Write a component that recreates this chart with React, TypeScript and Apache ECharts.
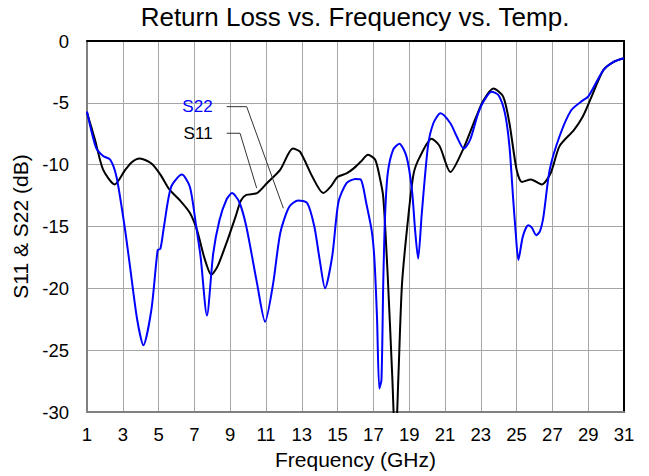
import React, { useEffect, useRef } from "react";
import * as echarts from "echarts";

const titleText = "Return Loss vs. Frequency vs. Temp.";
const xAxisName = "Frequency (GHz)";
const yAxisName = "S11 & S22 (dB)";

// S11 (black) [GHz, dB]
const s11: number[][] = [
  [1, -5.8], [1.45, -8.0], [1.9, -10.4], [2.55, -11.6], [3.1, -10.5], [3.5, -9.8], [3.95, -9.5],
  [4.6, -9.9], [5.1, -10.8], [5.6, -12.0], [6.2, -12.9], [6.75, -13.9], [7.15, -15.3], [7.55, -17.5],
  [7.95, -18.9], [8.3, -18.2], [8.8, -16.3], [9.3, -14.2], [9.6, -12.9], [9.9, -12.45], [10.5, -12.3],
  [11.05, -11.5], [11.8, -10.4], [12.5, -8.7], [12.9, -8.95], [13.6, -11.0], [14.2, -12.3], [14.6, -11.8],
  [15.0, -11.0], [15.5, -10.7], [15.9, -10.3], [16.3, -9.75], [16.7, -9.2], [17.1, -9.6], [17.35, -11.0],
  [17.55, -12.6], [17.8, -19], [18.05, -27], [18.23, -33], [18.4, -27], [18.6, -19.6], [18.95, -14.2],
  [19.25, -10.7], [19.6, -9.35], [20.25, -7.9], [20.7, -8.5], [21.3, -10.6], [22.0, -8.8], [22.75, -6.1],
  [23.15, -4.8], [23.7, -3.85], [24.25, -4.5], [24.6, -6.65], [25.0, -10.4], [25.3, -11.4], [25.8, -11.2],
  [26.4, -11.6], [26.9, -10.7], [27.4, -8.5], [28.2, -7.2], [28.7, -6.1], [29.1, -4.8], [29.85, -2.35],
  [30.4, -1.7], [31, -1.4],
];

// S22 (blue) [GHz, dB]
const s22: number[][] = [
  [1, -5.7], [1.5, -8.6], [1.9, -9.3], [2.3, -9.6], [2.65, -11.0], [3.1, -15.0], [3.4, -18.2],
  [3.8, -22.5], [4.15, -24.6], [4.6, -21.7], [4.95, -16.9], [5.1, -16.8], [5.3, -15.0], [5.7, -11.8],
  [6.3, -10.8], [6.75, -11.8], [7.1, -15.0], [7.35, -17.5], [7.7, -22.2], [8.05, -17.2], [8.4, -14.5],
  [8.8, -12.8], [9.1, -12.3], [9.5, -13.0], [9.9, -15.0], [10.5, -19.6], [10.95, -22.7], [11.4, -19.6],
  [11.8, -15.5], [12.3, -13.4], [12.8, -12.9], [13.3, -13.1], [13.7, -15.0], [14.0, -17.7], [14.3, -20.0],
  [14.7, -17.4], [15.05, -13.0], [15.5, -11.5], [16.0, -11.15], [16.3, -11.2], [16.6, -13.1], [16.9, -15.3],
  [17.05, -17.5], [17.2, -22.3], [17.33, -28.1], [17.45, -27.4], [17.55, -19.6], [17.65, -14.2],
  [17.8, -10.7], [18.1, -8.8], [18.45, -8.3], [18.85, -9.35], [19.15, -12.0], [19.33, -15.3], [19.5, -17.6],
  [19.7, -14.0], [20.05, -8.5], [20.35, -6.65], [20.75, -5.85], [21.3, -6.65], [21.65, -7.7], [22.05, -8.7],
  [22.4, -8.0], [22.85, -5.85], [23.15, -4.9], [23.6, -4.1], [24.0, -4.4], [24.35, -5.85], [24.6, -8.5],
  [24.8, -12.6], [24.95, -15.5], [25.1, -17.7], [25.35, -15.8], [25.65, -14.9], [25.85, -15.1], [26.1, -15.7],
  [26.3, -15.4], [26.5, -14.2], [26.85, -10.4], [27.4, -7.7], [28.05, -5.6], [28.7, -4.8], [29.0, -4.5],
  [29.85, -2.35], [30.4, -1.7], [31, -1.4],
];

// Callout leader lines [GHz, dB]
const s22Leader: number[][] = [[8.8, -5.31], [9.92, -5.31], [11.97, -13.52]];
const s11Leader: number[][] = [[8.8, -7.46], [9.55, -7.46], [10.48, -11.9]];

const FONT = "'Liberation Sans', Arial, sans-serif";

export default function App() {
  const ref = useRef<HTMLDivElement>(null);
  useEffect(() => {
    if (!ref.current) return;
    const chart = echarts.init(ref.current, undefined, { renderer: "svg" });
    const leaderLine = (data: number[][], name: string) => ({
      type: "line",
      name: name + " leader",
      data,
      showSymbol: false,
      symbol: "none",
      lineStyle: { color: "#333", width: 1 },
      z: 5,
      silent: true,
    });
    const leaderLabel = (data: number[][], name: string, color: string) => ({
      type: "scatter",
      name: name + " label",
      data: [data[0]],
      symbolSize: 0.01,
      itemStyle: { color, opacity: 0 },
      label: {
        show: true,
        position: "left",
        distance: 14,
        formatter: name,
        color,
        opacity: 1,
        textBorderWidth: 0,
        fontSize: 17,
        fontFamily: FONT,
      },
      z: 6,
      silent: true,
    });
    chart.setOption({
      animation: false,
      backgroundColor: "#fff",
      textStyle: { fontFamily: FONT },
      title: {
        text: titleText,
        left: 355,
        textAlign: "center",
        top: 4,
        padding: 0,
        textStyle: { fontSize: 26, fontWeight: "normal", color: "#000", fontFamily: FONT },
      },
      grid: { left: 87, top: 41, right: 25, bottom: 64, containLabel: false },
      xAxis: [
        {
          type: "value",
          min: 1,
          max: 31,
          interval: 2,
          name: xAxisName,
          nameLocation: "middle",
          nameGap: 37,
          nameTextStyle: { fontSize: 21, color: "#000", fontFamily: FONT },
          axisLine: { show: true, onZero: false, lineStyle: { color: "#808080", width: 2 } },
          axisTick: { show: false },
          axisLabel: { fontSize: 18.5, color: "#000", margin: 13, fontFamily: FONT },
          splitLine: { show: true, lineStyle: { color: "#a6a6a6", width: 1 } },
        },
        {
          type: "value",
          position: "top",
          min: 1,
          max: 31,
          axisLine: { show: true, onZero: false, lineStyle: { color: "#000", width: 2 } },
          axisTick: { show: false },
          axisLabel: { show: false },
          splitLine: { show: false },
        },
      ],
      yAxis: [
        {
          type: "value",
          min: -30,
          max: 0,
          interval: 5,
          name: yAxisName,
          nameLocation: "middle",
          nameGap: 53,
          nameRotate: 90,
          nameTextStyle: { fontSize: 21, color: "#000", fontFamily: FONT },
          axisLine: { show: true, onZero: false, lineStyle: { color: "#808080", width: 2 } },
          axisTick: { show: false },
          axisLabel: { fontSize: 18.5, color: "#000", margin: 18, fontFamily: FONT },
          splitLine: { show: true, lineStyle: { color: "#a6a6a6", width: 1 } },
        },
        {
          type: "value",
          position: "right",
          min: -30,
          max: 0,
          axisLine: { show: true, onZero: false, lineStyle: { color: "#000", width: 2 } },
          axisTick: { show: false },
          axisLabel: { show: false },
          splitLine: { show: false },
        },
      ],
      series: [
        {
          type: "line",
          name: "S11",
          data: s11,
          smooth: 0.25,
          showSymbol: false,
          symbol: "none",
          clip: true,
          lineStyle: { color: "#000", width: 2 },
          z: 3,
        },
        {
          type: "line",
          name: "S22",
          data: s22,
          smooth: 0.25,
          showSymbol: false,
          symbol: "none",
          clip: true,
          lineStyle: { color: "#0000ff", width: 2 },
          z: 4,
        },
        leaderLine(s22Leader, "S22"),
        leaderLine(s11Leader, "S11"),
        leaderLabel(s22Leader, "S22", "#0000ff"),
        leaderLabel(s11Leader, "S11", "#000000"),
      ],
    });
    return () => chart.dispose();
  }, []);
  return (
    <div
      ref={ref}
      style={{ position: "fixed", left: 0, top: 0, width: 649, height: 476, background: "#fff" }}
    />
  );
}
